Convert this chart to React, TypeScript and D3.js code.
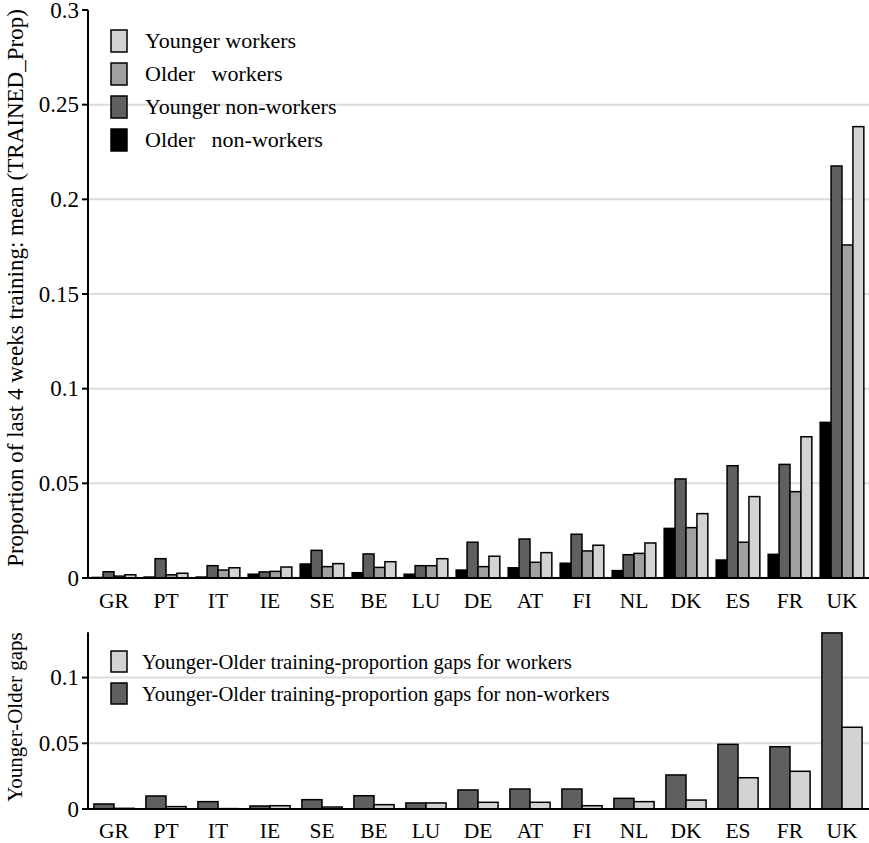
import React from "react";
import * as d3 from "d3";

const countries = ["GR", "PT", "IT", "IE", "SE", "BE", "LU", "DE", "AT", "FI", "NL", "DK", "ES", "FR", "UK"];

const olderNonWorkers = [0.0003, 0.0005, 0.0005, 0.002, 0.0074, 0.0028, 0.002, 0.0042, 0.0054, 0.0078, 0.0039, 0.0262, 0.0095, 0.0125, 0.0822];
const youngerNonWorkers = [0.0033, 0.0102, 0.0065, 0.0032, 0.0146, 0.0127, 0.0065, 0.0189, 0.0206, 0.0231, 0.0123, 0.0523, 0.0593, 0.0600, 0.2176];
const olderWorkers = [0.001, 0.0017, 0.0042, 0.0035, 0.006, 0.0056, 0.0065, 0.006, 0.0083, 0.0143, 0.013, 0.0266, 0.0189, 0.0456, 0.1759];
const youngerWorkers = [0.0017, 0.0025, 0.0054, 0.0058, 0.0076, 0.0086, 0.0102, 0.0115, 0.0134, 0.0173, 0.0185, 0.034, 0.043, 0.0746, 0.2384];

const gapNonWorkers = [0.0038, 0.0099, 0.0056, 0.0023, 0.0071, 0.0101, 0.0046, 0.0145, 0.0152, 0.0152, 0.0081, 0.0259, 0.0492, 0.0474, 0.134];
const gapWorkers = [0.0005, 0.0018, 0.0003, 0.0025, 0.0015, 0.0033, 0.0046, 0.0051, 0.0051, 0.0025, 0.0056, 0.0068, 0.0238, 0.0287, 0.0622];

const topTicks = [0, 0.05, 0.1, 0.15, 0.2, 0.25, 0.3];
const topTickLabels = ["0", "0.05", "0.1", "0.15", "0.2", "0.25", "0.3"];
const bottomTicks = [0, 0.05, 0.1];
const bottomTickLabels = ["0", "0.05", "0.1"];

const topSeriesNames = ["Older   non-workers", "Younger non-workers", "Older   workers", "Younger workers"];
const topLegendOrder = ["Younger workers", "Older   workers", "Younger non-workers", "Older   non-workers"];
const bottomSeriesNames = ["Younger-Older training-proportion gaps for non-workers", "Younger-Older training-proportion gaps for workers"];
const bottomLegendOrder = ["Younger-Older training-proportion gaps for workers", "Younger-Older training-proportion gaps for non-workers"];

const W = 869;
const H = 843;
const FONT = "Liberation Serif";
const ts = (size: number): React.CSSProperties => ({ fontFamily: FONT, fontSize: size, whiteSpace: "pre" });

const colorTop: Record<string, string> = {
  "Older   non-workers": "#000000",
  "Younger non-workers": "#606060",
  "Older   workers": "#a0a0a0",
  "Younger workers": "#d3d3d3",
};
const colorBottom: Record<string, string> = {
  "Younger-Older training-proportion gaps for non-workers": "#606060",
  "Younger-Older training-proportion gaps for workers": "#d3d3d3",
};

export default function App() {
  const xLeft = 88;
  const xRight = 868;
  const x0 = d3.scaleBand<string>().domain(countries).range([xLeft, xRight]).paddingInner(0.16).paddingOuter(0.08);
  const xTop = d3.scaleBand<string>().domain(topSeriesNames).range([0, x0.bandwidth()]).padding(0);
  const xBot = d3.scaleBand<string>().domain(bottomSeriesNames).range([0, x0.bandwidth() * 0.92]).padding(0);

  const yTop = d3.scaleLinear().domain([0, 0.3]).range([578, 10]);
  const yBot = d3.scaleLinear().domain([0, 0.1345]).range([809, 809 - 0.1345 * 1314]);

  const topData = [olderNonWorkers, youngerNonWorkers, olderWorkers, youngerWorkers];
  const botData = [gapNonWorkers, gapWorkers];

  const grid = "#dcdcdc";

  return (
    <svg width={W} height={H} style={{ position: "absolute", left: 0, top: 0, background: "#fff", fontFamily: FONT }}>
      {/* TOP PANEL */}
      {topTicks.slice(1, -1).map((t) => (
        <line key={"tg" + t} x1={xLeft} x2={W} y1={yTop(t)} y2={yTop(t)} stroke={grid} strokeWidth={2} />
      ))}
      {topLegendOrder.map((name, i) => (
        <g key={"lt" + name} transform={`translate(111, ${30 + i * 33})`}>
          <rect x={0} y={0} width={16} height={22} fill={colorTop[name]} stroke="#000" strokeWidth={1.5} />
          <text x={34} y={18} style={ts(22)}>{name}</text>
        </g>
      ))}
      {countries.map((c, ci) => (
        <g key={"gt" + c} transform={`translate(${x0(c)},0)`}>
          {topSeriesNames.map((s, si) => {
            const v = topData[si][ci];
            const y = yTop(v);
            return (
              <rect key={s} x={xTop(s)!} y={y} width={xTop.bandwidth()} height={Math.max(0, yTop(0) - y)}
                fill={colorTop[s]} stroke="#000" strokeWidth={1.5} />
            );
          })}
        </g>
      ))}
      <line x1={xLeft} x2={xLeft} y1={yTop(0.3)} y2={yTop(0)} stroke="#000" strokeWidth={2} />
      <line x1={82} x2={W} y1={yTop(0)} y2={yTop(0)} stroke="#000" strokeWidth={2} />
      {topTicks.map((t, i) => (
        <g key={"tt" + t}>
          <line x1={82} x2={xLeft} y1={yTop(t)} y2={yTop(t)} stroke="#000" strokeWidth={2} />
          <text x={79} y={yTop(t) + 7.5} textAnchor="end" style={ts(23)}>{topTickLabels[i]}</text>
        </g>
      ))}
      {countries.map((c) => (
        <text key={"xl" + c} x={x0(c)! + x0.bandwidth() / 2} y={608} textAnchor="middle" style={ts(21.5)}>{c}</text>
      ))}
      <text transform={`translate(23, ${288}) rotate(-90)`} textAnchor="middle" style={ts(23)}>
        Proportion of last 4 weeks training: mean (TRAINED_Prop)
      </text>

      {/* BOTTOM PANEL */}
      {bottomTicks.slice(1).map((t) => (
        <line key={"bg" + t} x1={xLeft} x2={W} y1={yBot(t)} y2={yBot(t)} stroke={grid} strokeWidth={2} />
      ))}
      {bottomLegendOrder.map((name, i) => (
        <g key={"lb" + name} transform={`translate(111, ${651 + i * 32})`}>
          <rect x={0} y={0} width={16} height={21} fill={colorBottom[name]} stroke="#000" strokeWidth={1.5} />
          <text x={31} y={18} style={ts(20.6)}>{name}</text>
        </g>
      ))}
      {countries.map((c, ci) => (
        <g key={"gb" + c} transform={`translate(${x0(c)! + x0.bandwidth() * 0.04},0)`}>
          {bottomSeriesNames.map((s, si) => {
            const v = botData[si][ci];
            const y = yBot(v);
            return (
              <rect key={s} x={xBot(s)!} y={y} width={xBot.bandwidth()} height={Math.max(0, yBot(0) - y)}
                fill={colorBottom[s]} stroke="#000" strokeWidth={1.5} />
            );
          })}
        </g>
      ))}
      <line x1={xLeft} x2={xLeft} y1={yBot(0.1345)} y2={yBot(0)} stroke="#000" strokeWidth={2} />
      <line x1={82} x2={W} y1={yBot(0)} y2={yBot(0)} stroke="#000" strokeWidth={2} />
      {bottomTicks.map((t, i) => (
        <g key={"bt" + t}>
          <line x1={82} x2={xLeft} y1={yBot(t)} y2={yBot(t)} stroke="#000" strokeWidth={2} />
          <text x={79} y={yBot(t) + 7.5} textAnchor="end" style={ts(23)}>{bottomTickLabels[i]}</text>
        </g>
      ))}
      {countries.map((c) => (
        <text key={"xb" + c} x={x0(c)! + x0.bandwidth() / 2} y={838} textAnchor="middle" style={ts(21.5)}>{c}</text>
      ))}
      <text transform={`translate(22, ${717}) rotate(-90)`} textAnchor="middle" style={ts(21)}>
        Younger-Older gaps
      </text>
    </svg>
  );
}
